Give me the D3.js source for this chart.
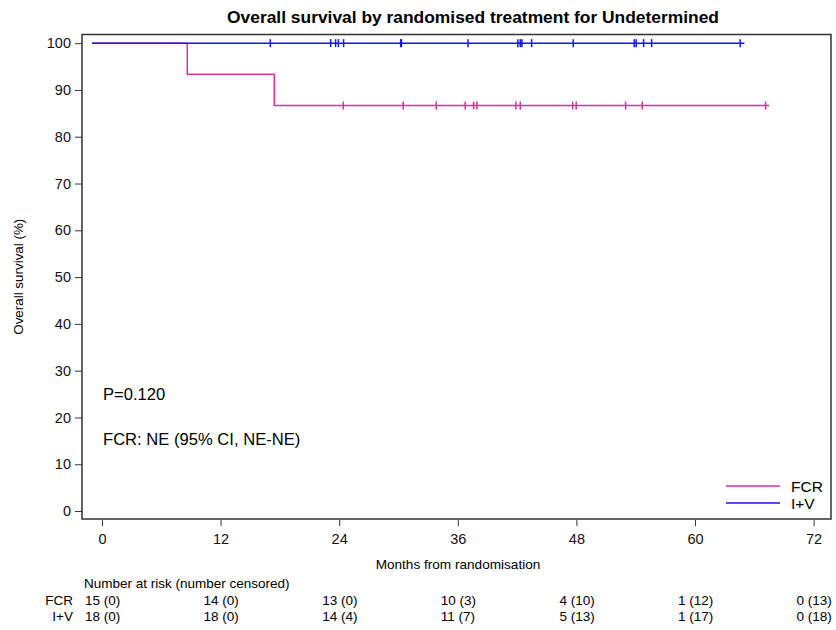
<!DOCTYPE html>
<html>
<head>
<meta charset="utf-8">
<script src="https://cdn.jsdelivr.net/npm/d3@7"></script>
<style>
  html, body { margin: 0; padding: 0; background: #fff; }
  svg { display: block; font-family: "Liberation Sans", Arial, sans-serif; }
</style>
</head>
<body>
<svg id="chart" width="836" height="630"></svg>
<script>
// Kaplan-Meier steps: [time (months), survival %]
const fcrSteps = [[-1, 100], [8.63, 93.33], [17.43, 86.67], [67.5, 86.67]];
const ivSteps = [[-1, 100], [65.0, 100]];

// Censoring times (months)
const fcrCensored = [24.41, 30.48, 33.82, 36.75, 37.60, 37.94, 41.88, 42.32, 47.62, 47.98, 52.98, 54.66, 67.14];
const ivCensored = [17.03, 23.14, 23.64, 23.92, 24.45, 30.22, 30.30, 37.03, 42.08, 42.32, 42.49, 43.47, 47.68, 53.85, 54.05, 54.80, 55.61, 64.57];

const xTicks = [0, 12, 24, 36, 48, 60, 72];
const yTicks = [0, 10, 20, 30, 40, 50, 60, 70, 80, 90, 100];

// Number at risk (number censored) at each x tick
const fcrAtRisk = ["15 (0)", "14 (0)", "13 (0)", "10 (3)", "4 (10)", "1 (12)", "0 (13)"];
const ivAtRisk = ["18 (0)", "18 (0)", "14 (4)", "11 (7)", "5 (13)", "1 (17)", "0 (18)"];

const groups = ["FCR", "I+V"];
const colors = { "FCR": "#d4339b", "I+V": "#1414f5" };

const svg = d3.select("#chart");
const plot = { left: 82, right: 831, top: 34.5, bottom: 519 };

const x = d3.scaleLinear().domain([-2.02, 73.76]).range([plot.left, plot.right]);
const y = d3.scaleLinear().domain([-1.7, 101.85]).range([plot.bottom, plot.top]);

// Title
svg.append("text")
  .attr("x", 473).attr("y", 23)
  .attr("text-anchor", "middle")
  .attr("font-size", 17.4).attr("font-weight", "bold")
  .text("Overall survival by randomised treatment for Undetermined");

// Axes
const xAxis = d3.axisBottom(x).tickValues(xTicks).tickSize(6).tickPadding(8);
const gx = svg.append("g").attr("transform", `translate(0,${plot.bottom + 1})`).call(xAxis);
gx.select(".domain").remove();
gx.selectAll(".tick line").attr("stroke", "#333");
gx.selectAll(".tick text").attr("font-size", 14.5).attr("fill", "#111")
  .attr("font-family", "Liberation Sans, Arial, sans-serif");

const yAxis = d3.axisLeft(y).tickValues(yTicks).tickSize(7).tickPadding(4);
const gy = svg.append("g").attr("transform", `translate(${plot.left},0)`).call(yAxis);
gy.select(".domain").remove();
gy.selectAll(".tick line").attr("stroke", "#333");
gy.selectAll(".tick text").attr("font-size", 14.5).attr("fill", "#111")
  .attr("font-family", "Liberation Sans, Arial, sans-serif");

// Axis titles
svg.append("text")
  .attr("x", 458).attr("y", 569)
  .attr("text-anchor", "middle").attr("font-size", 13.6)
  .text("Months from randomisation");

svg.append("text")
  .attr("transform", `translate(23,${(plot.top + plot.bottom) / 2}) rotate(-90)`)
  .attr("text-anchor", "middle").attr("font-size", 13.4)
  .text("Overall survival (%)");

// Survival curves
const line = d3.line().x(d => x(d[0])).y(d => y(d[1])).curve(d3.curveStepAfter);

function drawGroup(name, steps, censored) {
  const g = svg.append("g");
  g.append("path").datum(steps)
    .attr("d", line).attr("fill", "none")
    .attr("stroke", colors[name]).attr("stroke-width", 1.5);
  const level = t => {
    let v = steps[0][1];
    for (const s of steps) if (s[0] <= t) v = s[1];
    return v;
  };
  g.selectAll("line.cens").data(censored).join("line")
    .attr("class", "cens")
    .attr("x1", d => x(d)).attr("x2", d => x(d))
    .attr("y1", d => y(level(d)) - 4).attr("y2", d => y(level(d)) + 4)
    .attr("stroke", colors[name]).attr("stroke-width", 1.5);
}
drawGroup("FCR", fcrSteps, fcrCensored);
drawGroup("I+V", ivSteps, ivCensored);

// Plot frame
svg.append("rect")
  .attr("x", plot.left).attr("y", plot.top)
  .attr("width", plot.right - plot.left).attr("height", plot.bottom - plot.top)
  .attr("fill", "none").attr("stroke", "#333").attr("stroke-width", 1.5);

// Annotations
svg.append("text").attr("x", 103).attr("y", 400).attr("font-size", 16.6).text("P=0.120");
svg.append("text").attr("x", 103).attr("y", 445).attr("font-size", 16.6).text("FCR: NE (95% CI, NE-NE)");

// Legend
const legend = svg.append("g");
groups.forEach((name, i) => {
  const ly = 486 + i * 17;
  legend.append("line")
    .attr("x1", 726).attr("x2", 780).attr("y1", ly).attr("y2", ly)
    .attr("stroke", colors[name]).attr("stroke-width", 1.5);
  legend.append("text")
    .attr("x", 791).attr("y", ly + 5.5).attr("font-size", 15.5).text(name);
});

// Number at risk table
svg.append("text").attr("x", 84).attr("y", 588).attr("font-size", 13.5)
  .text("Number at risk (number censored)");
[[fcrAtRisk, "FCR"], [ivAtRisk, "I+V"]].forEach(([vals, name], r) => {
  const ry = 605 + r * 16;
  svg.append("text").attr("x", 73).attr("y", ry)
    .attr("text-anchor", "end").attr("font-size", 13.5).text(name);
  svg.append("g").selectAll("text").data(vals).join("text")
    .attr("x", (d, i) => x(xTicks[i]) - 17).attr("y", ry)
    .attr("font-size", 13.5).text(d => d);
});
</script>
</body>
</html>
